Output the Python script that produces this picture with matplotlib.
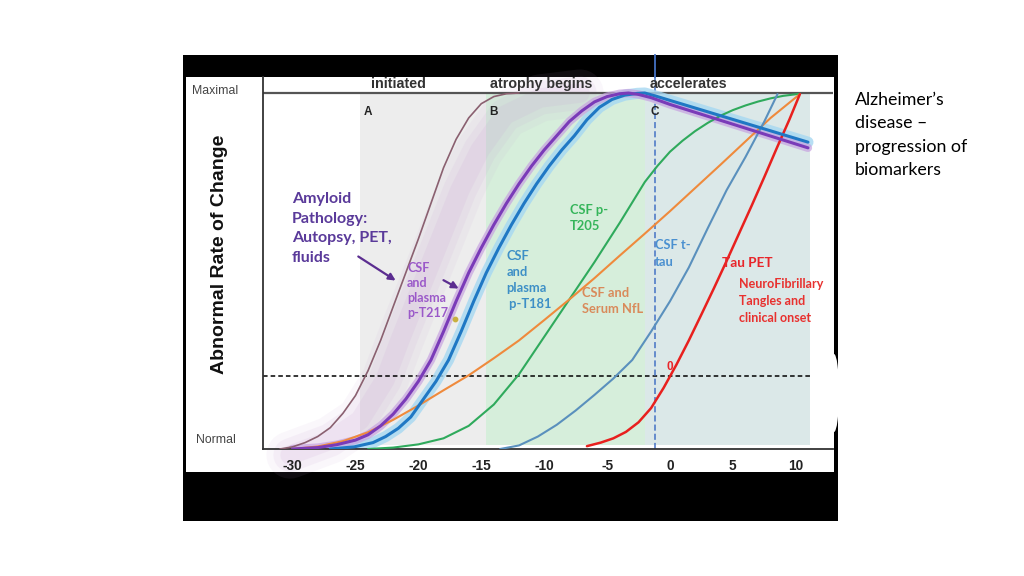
import matplotlib
matplotlib.use("Agg")
import matplotlib.pyplot as plt
from matplotlib.patches import Rectangle, Ellipse
from matplotlib.lines import Line2D

plt.rcParams["font.family"] = ["Liberation Sans", "DejaVu Sans"]

# ---- curves: x = years from onset, y = 0 normal .. 1 maximal ----
brown_x = [-31.0, -30.0, -29.0, -28.0, -27.0, -26.0, -25.0, -24.0, -23.0, -22.0, -21.0, -20.0,
           -19.0, -18.0, -17.0, -16.0, -15.0, -14.0, -13.0, -12.0]
brown_y = [0.0, 0.006, 0.018, 0.035, 0.06, 0.1, 0.15, 0.22, 0.305, 0.4, 0.495, 0.59,
           0.69, 0.79, 0.87, 0.93, 0.97, 0.99, 0.998, 1.0]

haze_x = [-30.2, -27.0, -24.64, -22.65, -21.46, -19.87, -18.28, -16.69, -15.1, -13.12, -10.33, -7.15]
haze_y = [-0.017, 0.025, 0.081, 0.194, 0.306, 0.447, 0.587, 0.728, 0.84, 0.938, 0.986, 1.0]

t217_x = [-30.0, -28.0, -26.5, -25.0, -24.0, -23.0, -22.0, -21.0, -20.0, -19.0, -18.0, -17.0,
          -16.0, -15.0, -14.0, -13.0, -12.0, -11.0, -10.0, -9.0, -8.0, -7.0, -6.0, -5.0,
          -4.0, -3.3, -2.5, -1.5, 0.0, 10.97]
t217_y = [0.0, 0.004, 0.012, 0.025, 0.04, 0.065, 0.098, 0.14, 0.19, 0.25, 0.33, 0.415,
          0.495, 0.565, 0.63, 0.69, 0.745, 0.795, 0.84, 0.88, 0.92, 0.95, 0.975, 0.99,
          0.998, 1.0, 0.996, 0.987, 0.968, 0.846]

t181_x = [-27.0, -25.1, -23.6, -22.6, -21.6, -20.6, -19.6, -18.6, -17.6, -16.6, -15.6, -14.6,
          -13.6, -12.6, -11.6, -10.6, -9.6, -8.6, -7.6, -6.6, -5.6, -4.6, -3.6, -2.6, -2.0,
          -1.19, 10.97]
t181_y = [0.0, 0.006, 0.018, 0.035, 0.058, 0.09, 0.14, 0.19, 0.25, 0.33, 0.415, 0.495,
          0.565, 0.63, 0.69, 0.745, 0.795, 0.84, 0.88, 0.925, 0.96, 0.982, 0.994, 0.999, 1.0,
          0.992, 0.862]

t205_x = [-24.0, -22.0, -20.0, -18.0, -16.0, -14.0, -12.0, -10.0, -8.0, -6.0, -4.0, -2.0,
          -1.0, 0.0, 1.0, 2.0, 3.0, 4.0, 5.0, 6.0, 7.0, 8.0, 9.0, 10.33]
t205_y = [0.0, 0.004, 0.013, 0.03, 0.065, 0.125, 0.21, 0.315, 0.42, 0.525, 0.635, 0.75,
          0.795, 0.835, 0.866, 0.893, 0.916, 0.936, 0.952, 0.965, 0.976, 0.985, 0.992, 0.998]

nfl_x = [-30.0, -28.0, -26.0, -24.0, -22.0, -20.0, -18.0, -16.0, -14.0, -12.0, -10.0, -8.0,
         -6.0, -4.0, -2.0, 0.0, 2.0, 4.0, 6.0, 8.0, 10.33]
nfl_y = [0.0, 0.007, 0.022, 0.047, 0.082, 0.122, 0.165, 0.207, 0.255, 0.305, 0.362, 0.42,
         0.48, 0.543, 0.605, 0.668, 0.733, 0.798, 0.864, 0.93, 0.997]

ttau_x = [-13.5, -12.0, -10.5, -9.0, -7.5, -6.0, -4.5, -3.0, -1.5, 0.0, 1.5, 3.0, 4.5, 6.0,
          7.5, 8.55]
ttau_y = [0.0, 0.01, 0.035, 0.068, 0.108, 0.152, 0.198, 0.25, 0.33, 0.415, 0.51, 0.62,
          0.727, 0.82, 0.92, 0.997]

taupet_x = [-6.6, -5.5, -4.5, -3.5, -2.5, -1.5, -0.5, 0.5, 1.5, 2.5, 3.5, 4.5, 5.5, 6.5,
            7.5, 8.5, 9.5, 10.33]
taupet_y = [0.008, 0.018, 0.03, 0.048, 0.075, 0.115, 0.172, 0.236, 0.305, 0.378, 0.452, 0.528,
            0.606, 0.684, 0.764, 0.846, 0.926, 0.997]

# stage bands (start, end) in years
stage_a = (-24.64, -14.63)
stage_b = (-14.63, -1.99)
stage_c = (-1.99, 11.13)
marker_c = -1.19
threshold = 0.206

x_ticks = [-30, -25, -20, -15, -10, -5, 0, 5, 10]

W, H = 1024, 576


def fx(px):
    return px / W


def fy(py):
    return 1 - py / H


fig = plt.figure(figsize=(10.24, 5.76), dpi=100)
fig.patch.set_facecolor("white")

# slide frame: black box with the pasted chart inside
fig.add_artist(Rectangle((fx(183), fy(521)), fx(838) - fx(183), fy(55) - fy(521),
                         transform=fig.transFigure, facecolor="black", edgecolor="none", zorder=-3))
fig.add_artist(Rectangle((fx(186), fy(472)), fx(834) - fx(186), fy(77) - fy(472),
                         transform=fig.transFigure, facecolor="white", edgecolor="none", zorder=-2))
fig.add_artist(Ellipse((fx(834), fy(393)), 10 / W, 78 / H, transform=fig.transFigure,
                       facecolor="white", edgecolor="none", zorder=-1))

ax = fig.add_axes([fx(263), fy(449), fx(833) - fx(263), fy(77) - fy(449)])
ax.set_facecolor("white")
ax.set_xlim(-32.35, 12.96)
ax.set_ylim(0, 1.045)

for s in ["top", "right"]:
    ax.spines[s].set_visible(False)
for s in ["left", "bottom"]:
    ax.spines[s].set_color("#333333")
    ax.spines[s].set_linewidth(1.3)

ax.set_xticks(x_ticks)
ax.set_xticklabels([str(t) for t in x_ticks], fontsize=9.8, fontweight="bold",
                   family=["Liberation Sans Narrow", "Liberation Sans"], color="#222222")
ax.tick_params(axis="x", length=0, pad=7)
ax.set_yticks([])

# stage bands
ax.axvspan(*stage_a, ymin=0.01 / 1.045, ymax=1 / 1.045, color="#ededed", lw=0, zorder=0)
ax.axvspan(*stage_b, ymin=0.01 / 1.045, ymax=1 / 1.045, color="#d6eedb", lw=0, zorder=0)
ax.axvspan(*stage_c, ymin=0.01 / 1.045, ymax=1 / 1.045, color="#dbe8e8", lw=0, zorder=0)

# maximal line
ax.axhline(1.0, color="#555555", lw=1.6, zorder=2)

# purple haze of amyloid pathology
for lw, a in [(34, 0.08), (24, 0.10), (14, 0.12)]:
    ax.plot(haze_x, haze_y, color="#c59ad3", lw=lw, alpha=a, solid_capstyle="round",
            solid_joinstyle="round", clip_on=False, zorder=1)

# threshold + stage C marker
ax.plot([ax.get_xlim()[0], 11.37], [threshold, threshold], color="black", lw=1.1,
        ls=(0, (3, 2)), zorder=2)
ax.axvline(marker_c, color="#4472c4", lw=1.1, ls=(0, (4, 2)), zorder=2)
fig.add_artist(Line2D([fx(655), fx(655)], [fy(77), fy(55)], transform=fig.transFigure,
                      color="#4472c4", lw=1.3, zorder=5))

# glows
ax.plot(t181_x, t181_y, color="#a6d8f2", lw=8, alpha=0.8, solid_capstyle="round",
        solid_joinstyle="round", zorder=2)
ax.plot(t217_x, t217_y, color="#c7a2e0", lw=6, alpha=0.7, solid_capstyle="round",
        solid_joinstyle="round", zorder=2)

# biomarker curves
line = dict(solid_joinstyle="round", solid_capstyle="round")
ax.plot(brown_x, brown_y, color="#8a6070", lw=1.2, zorder=3, **line)
ax.plot(t205_x, t205_y, color="#2faa5c", lw=1.5, zorder=3, **line)
ax.plot(nfl_x, nfl_y, color="#ef8a3c", lw=1.5, zorder=3, **line)
ax.plot(ttau_x, ttau_y, color="#5a90bd", lw=1.5, zorder=3, **line)
ax.plot(taupet_x, taupet_y, color="#e8201e", lw=1.8, zorder=3, **line)
ax.plot(t181_x, t181_y, color="#1f78c4", lw=2.2, zorder=4, **line)
ax.plot(t217_x, t217_y, color="#7a3bb8", lw=2.2, zorder=4, **line)
ax.scatter([-17.1], [0.365], s=10, color="#c8b040", zorder=5)

# stage headers and letters
hdr = dict(fontsize=10.3, fontweight="bold", color="#333333", ha="center", va="center", zorder=6)
ax.text(-21.6, 1.025, "initiated", **hdr)
ax.text(-10.25, 1.025, "atrophy begins", **hdr)
ax.text(1.43, 1.025, "accelerates", **hdr)
let = dict(fontsize=8.5, fontweight="bold", color="#222222", ha="center", va="center", zorder=6)
ax.text(-24.0, 0.947, "A", **let)
ax.text(-14.0, 0.947, "B", **let)
ax.text(-1.19, 0.947, "C", **let)

# curve labels
lab = dict(fontweight="bold", family=["Lato", "DejaVu Sans"], ha="left", va="center", zorder=6)
ax.text(-30.05, 0.619, "Amyloid\nPathology:\nAutopsy, PET,\nfluids", fontsize=11.5,
        color="#5a3a9a", linespacing=1.5, **lab)
ax.text(-20.9, 0.445, "CSF\nand\nplasma\np-T217", fontsize=9, color="#9b59c9",
        linespacing=1.3, **lab)
ax.text(-13.0, 0.475, "CSF\nand\nplasma\n p-T181", fontsize=9.3, color="#3d8fc6",
        linespacing=1.38, **lab)
ax.text(-7.95, 0.649, "CSF p-\nT205", fontsize=9.3, color="#35b55a", linespacing=1.35, **lab)
ax.text(-7.0, 0.416, "CSF and\nSerum NfL", fontsize=9.3, color="#d98a5a", linespacing=1.35, **lab)
ax.text(-1.2, 0.549, "CSF t-\ntau", fontsize=9.3, color="#4a90d0", linespacing=1.45, **lab)
ax.text(4.1, 0.522, "Tau PET", fontsize=9.8, color="#e8262b", **lab)
ax.text(5.5, 0.417, "NeuroFibrillary\nTangles and\nclinical onset", fontsize=9,
        color="#e8312f", linespacing=1.5, **lab)
ax.text(0.0, 0.23, "0", fontsize=8.5, fontweight="bold", color="#e8262b",
        ha="center", va="center", zorder=6)

arrow = dict(arrowstyle="-|>", color="#5b2d90", lw=1.6, mutation_scale=10)
ax.annotate("", xy=(-21.62, 0.469), xytext=(-24.96, 0.545), arrowprops=arrow, zorder=6)
ax.annotate("", xy=(-16.6, 0.447), xytext=(-18.2, 0.478), arrowprops=arrow, zorder=6)

# panel labels outside the axes
fig.text(fx(215), fy(91), "Maximal", fontsize=8.8, color="#444444", ha="center", va="center")
fig.text(fx(216), fy(440), "Normal", fontsize=8.8, color="#444444", ha="center", va="center")
fig.text(fx(220), fy(254), "Abnormal Rate of Change", rotation=90, fontsize=14,
         fontweight="bold", color="#111111", ha="center", va="center")

# slide caption
fig.text(fx(855), fy(135), "Alzheimer\u2019s\ndisease \u2013\nprogression of\nbiomarkers",
         fontsize=12.8, family=["Lato", "DejaVu Sans"], color="black", ha="left", va="center",
         linespacing=1.57)

fig.savefig("out.png", dpi=100)
